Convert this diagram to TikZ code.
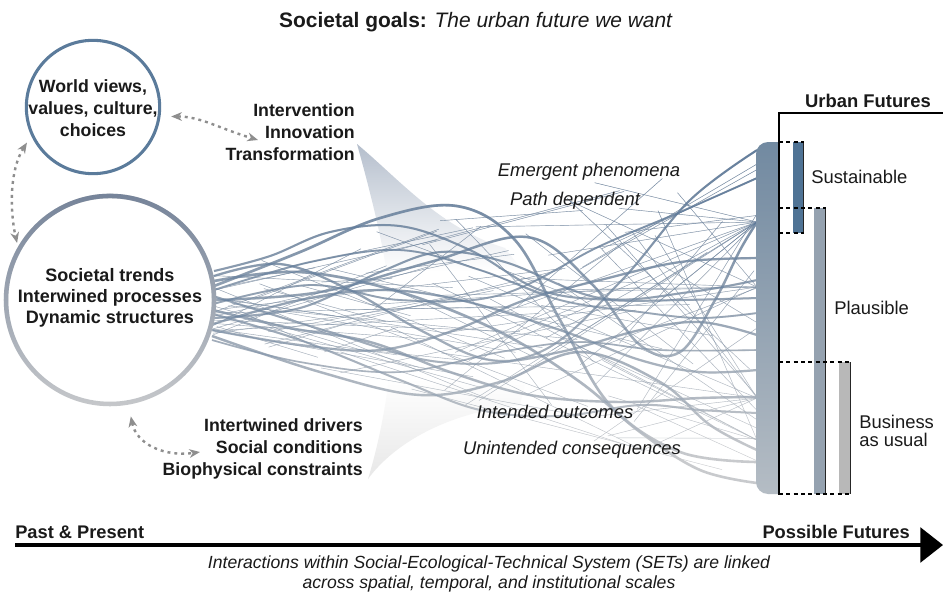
\documentclass[tikz,border=0pt]{standalone}
\usepackage{fontspec}
\setmainfont{Liberation Sans}
\usetikzlibrary{arrows.meta,fadings}

\definecolor{netblue}{HTML}{5E7A9A}
\definecolor{netgrey}{HTML}{C8CACD}
\definecolor{wvblue}{HTML}{5B7B9B}
\definecolor{circblue}{HTML}{76849A}
\definecolor{circgrey}{HTML}{C6C8CB}
\definecolor{fblue}{HTML}{667A97}
\definecolor{fgrey}{HTML}{A0A0A0}
\definecolor{barblue}{HTML}{50708F}
\definecolor{bargrey}{HTML}{D6D6D6}
\definecolor{sustc}{HTML}{4F7395}
\definecolor{plausc}{HTML}{95A2B0}
\definecolor{busc}{HTML}{B8B8B8}
\definecolor{arrgrey}{HTML}{8E8E8E}
\definecolor{txt}{HTML}{1A1A1A}

\tikzfading[name=netfade, top color=transparent!0, bottom color=transparent!100]
\pgfdeclareverticalshading{funnelshade}{100bp}{color(0bp)=(fgrey); color(8bp)=(fgrey!75!white); color(22bp)=(fgrey!30!white); color(40bp)=(white); color(56bp)=(white); color(70bp)=(fblue!35!white); color(86bp)=(fblue!80!white); color(100bp)=(fblue)}
\pgfdeclareverticalshading{barshade}{100bp}{color(0bp)=(bargrey); color(100bp)=(barblue)}

\newcommand\netlines{%
  \pgfmathsetseed{20231}%
  \draw[netpath, line width=1.95pt] plot[smooth, tension=0.6] coordinates {(214,286) (300,252) (380,218) (457,206) (515,240) (560,320) (610,405) (680,452) (757,462)};
  \draw[netpath, line width=1.8pt] plot[smooth, tension=0.6] coordinates {(213,300) (320,292) (430,262) (527,237) (590,282) (640,345) (680,352) (715,300) (740,250) (757,222)};
  \draw[netpath, line width=1.65pt] plot[smooth, tension=0.6] coordinates {(214,276) (280,264) (350,290) (420,330) (490,360) (560,352) (640,330) (700,322) (757,335)};
  \draw[netpath, line width=1.5pt] plot[smooth, tension=0.6] coordinates {(213,318) (300,308) (380,272) (440,252) (505,262) (600,298) (690,292) (757,280)};
  \draw[netpath, line width=1.65pt] plot[smooth, tension=0.6] coordinates {(212,330) (300,345) (380,350) (455,330) (525,300) (600,280) (680,262) (757,258)};
  \draw[netpath, line width=1.8pt] plot[smooth, tension=0.6] coordinates {(213,310) (290,328) (370,342) (450,372) (530,395) (620,402) (700,398) (757,397)};
  \draw[netpath, line width=1.5pt] plot[smooth, tension=0.6] coordinates {(213,296) (330,332) (440,362) (540,352) (620,282) (690,200) (757,150)};
  \draw[netpath, line width=1.35pt] plot[smooth, tension=0.6] coordinates {(214,290) (310,262) (400,250) (480,270) (560,300) (640,312) (700,318) (757,313)};
  \draw[netpath, line width=1.8pt] plot[smooth, tension=0.6] coordinates {(212,336) (320,372) (420,395) (500,382) (580,352) (660,382) (710,425) (757,450)};
  \draw[netpath, line width=1.65pt] plot[smooth, tension=0.6] coordinates {(213,324) (300,300) (380,290) (460,300) (560,330) (640,360) (700,372) (757,370)};
  \draw[netpath, line width=1.95pt] plot[smooth, tension=0.6] coordinates {(214,281) (300,272) (400,292) (500,332) (580,382) (640,432) (700,470) (757,483)};
  \draw[netpath, line width=1.35pt] plot[smooth, tension=0.6] coordinates {(213,304) (310,285) (400,300) (500,295) (600,246) (680,212) (757,178)};
  \draw[netpath, line width=1.5pt] plot[smooth, tension=0.6] coordinates {(213,314) (300,340) (400,380) (480,410) (560,416) (640,405) (700,410) (757,413)};
  \draw[netpath, line width=1.5pt] plot[smooth, tension=0.6] coordinates {(214,271) (270,256) (330,232) (400,226) (470,250) (540,290) (610,300) (680,300) (757,298)};
  \draw[netpath, line width=1.2pt] plot[smooth, tension=0.6] coordinates {(212,340) (300,362) (400,372) (500,352) (580,342) (660,350) (757,350)};
  \foreach \i in {1,...,64}{%
    \pgfmathsetmacro\xa{214+rnd*430}%
    \pgfmathsetmacro\xb{min(757,\xa+70+rnd*280)}%
    \pgfmathsetmacro\ya{268-0.225*(\xa-214)+rnd*(72+0.495*(\xa-214))}%
    \pgfmathsetmacro\yb{268-0.225*(\xb-214)+rnd*(72+0.495*(\xb-214))}%
    \draw[netpath, thinnet] (\xa,\ya) -- (\xb,\yb);
  }
  \foreach \i in {1,...,16}{%
    \pgfmathsetmacro\ya{272+rnd*64}%
    \pgfmathsetmacro\xb{330+rnd*240}%
    \pgfmathsetmacro\yb{268-0.225*(\xb-214)+rnd*(72+0.495*(\xb-214))}%
    \draw[netpath, thinnet] (213,\ya) -- (\xb,\yb);
  }
  \foreach \ty/\n in {222/12,287/7,398/7,440/5}{%
    \foreach \i in {1,...,\n}{%
      \pgfmathsetmacro\xa{430+rnd*250}%
      \pgfmathsetmacro\ya{268-0.225*(\xa-214)+rnd*(72+0.495*(\xa-214))}%
      \draw[netpath, thinnet] (\xa,\ya) -- (757,\ty);
    }
  }
}

\begin{document}
\begin{tikzpicture}[x=0.75pt,y=-0.75pt,
  netpath/.style={draw=netgrey},
  thinnet/.style={line width=0.3pt},
  boldlbl/.style={font=\fontsize{13.3}{16.5}\selectfont\bfseries, text=txt, inner sep=0pt},
  itlbl/.style={font=\fontsize{13.8}{16}\selectfont\itshape, text=txt, inner sep=0pt},
  reglbl/.style={font=\fontsize{13.8}{13.5}\selectfont, text=txt, inner sep=0pt},
  dotarrow/.style={arrgrey, line width=1.8pt, dash pattern=on 2.2pt off 3pt,
     {Stealth[length=8pt,width=6.5pt,inset=2.5pt]}-{Stealth[length=8pt,width=6.5pt,inset=2.5pt]}},
  dashln/.style={black, line width=0.8pt, dash pattern=on 3pt off 2.5pt},
  futbar/.style={line width=0.8pt, draw=black!85}]
\useasboundingbox (0,0) rectangle (943,592);
\fill[white] (0,0) rectangle (943,592);

% funnel
\shade[shading=funnelshade] (357,144) .. controls (400,180) and (440,228) .. (505,248)
  -- (545,300) -- (520,405)
  .. controls (450,412) and (395,442) .. (368,479)
  .. controls (380,440) and (392,380) .. (392,330)
  .. controls (392,280) and (376,212) .. (357,144) -- cycle;

% network
\netlines
\begin{scope}[netpath/.style={draw=netblue, path fading=netfade, fit fading=false,
    fading transform={xshift=360pt, yshift=-222pt, xscale=5.5, yscale=4.9}}]
\netlines
\end{scope}

% circles
\node[circle, draw=wvblue, line width=2.3pt, minimum size=100pt, inner sep=0pt] (wv) at (93,107) {};
\node[boldlbl, align=center] (wvt) at (93,108) {World views,\\values, culture,\\choices};
\node[circle, draw=circgrey, line width=3.4pt, minimum size=156pt, inner sep=0pt] (st) at (110,300) {};
\draw[circblue, line width=3.4pt, path fading=netfade] (st.center) circle[radius=78pt];
\node[boldlbl, align=center, font=\fontsize{13.5}{15.75}\selectfont\bfseries] (stt) at (110,298) {Societal trends\\Interwined processes\\Dynamic structures};

% labels
\node[font=\fontsize{15.7}{18}\selectfont, text=txt, inner sep=0pt] (title) at (476,22) {\textbf{Societal goals:} \textit{The urban future we want}};
\node[boldlbl, align=right, anchor=east] (iit) at (355,132) {Intervention\\Innovation\\Transformation};
\node[boldlbl, align=right, anchor=east] (drv) at (363,449) {Intertwined drivers\\Social conditions\\Biophysical constraints};
\coordinate (iitarr) at (258,140);
\coordinate (drvarr) at (200,452);

\node[itlbl] (emer) at (589,172) {Emergent phenomena};
\node[itlbl] (pathd) at (575,201) {Path dependent};
\node[itlbl] (intend) at (555,412) {Intended outcomes};
\node[itlbl] (unint) at (572,450) {Unintended consequences};

% dotted arrows
\draw[dotarrow, shorten <=6pt, shorten >=3pt] (wv.205) .. controls +(-22,35) and +(-8,-35) .. (st.150);
\draw[dotarrow, shorten <=8pt] (wv.352) .. controls +(40,0) and +(-40,-12) .. (iitarr);
\draw[dotarrow, shorten <=9pt] (st.280) .. controls +(8,40) and +(-35,5) .. (drvarr);

% right bar
\begin{scope}
\clip (740,130) rectangle (778.5,500);
\shade[shading=barshade, rounded corners=9pt] (756,142) rectangle (800,494);
\end{scope}

% urban futures bracket
\coordinate (brR) at (943,113);
\coordinate (brC) at (779,113);
\coordinate (brB) at (779,494.5);
\draw[line width=1.5pt] (brR) -- (brC) -- (brB);
\node[boldlbl, font=\fontsize{13.8}{16}\selectfont\bfseries] (uf) at (868,101) {Urban Futures};

\fill[sustc] (793,142) rectangle (803.5,233);
\draw[futbar] (803.5,142) -- (803.5,233);
\fill[plausc] (814,208) rectangle (825.5,494);
\draw[futbar] (825.5,208) -- (825.5,494);
\fill[busc] (839,362) rectangle (850.5,494);
\draw[futbar] (850.5,362) -- (850.5,494);
\draw[dashln] (779,142) -- (804,142);
\draw[dashln] (779,233) -- (804,233);
\draw[dashln] (779,208) -- (826,208);
\draw[dashln] (779,362) -- (851,362);
\draw[dashln] (779,494) -- (851,494);

\node[reglbl, anchor=west] (sus) at (811,177) {Sustainable};
\node[reglbl, anchor=west] (pla) at (834,308) {Plausible};
\node[reglbl, anchor=west, align=left] (bau) at (859,431) {Business\\as usual};

% timeline
\coordinate (tlL) at (15,545);
\coordinate (tlR) at (943,545);
\draw[line width=2.7pt, -{Triangle[length=17pt,width=26pt]}] (tlL) -- (tlR);
\node[boldlbl, font=\fontsize{13.7}{16}\selectfont\bfseries, anchor=base west] (past) at (15,538) {Past \& Present};
\node[boldlbl, font=\fontsize{13.7}{16}\selectfont\bfseries, anchor=base east] (fut) at (910,538) {Possible Futures};
\node[font=\fontsize{13.2}{15}\selectfont\itshape, text=txt, inner sep=0pt, align=center] (cap) at (489,574) {Interactions within Social-Ecological-Technical System (SETs) are linked\\across spatial, temporal, and institutional scales};
\end{tikzpicture}
\end{document}
